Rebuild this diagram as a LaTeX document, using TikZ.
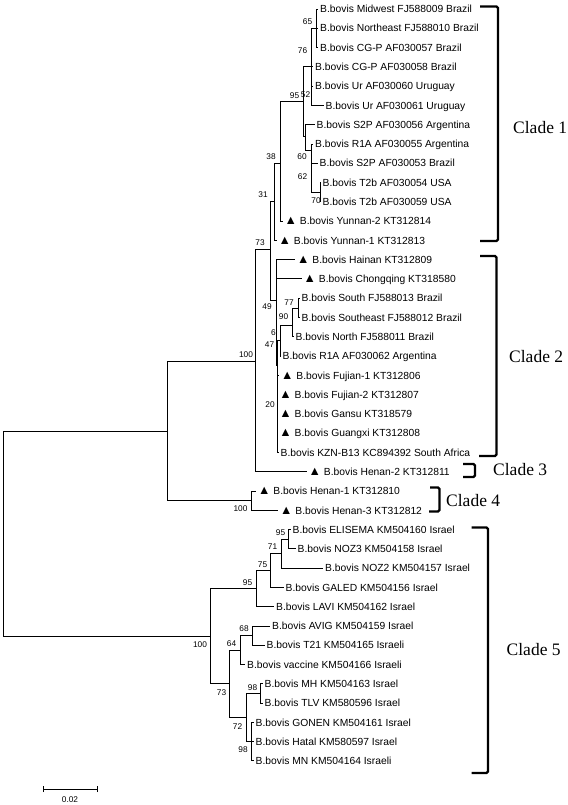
\documentclass[tikz,border=0pt]{standalone}
\usepackage{fontspec}
\setmainfont{Liberation Sans}
\newfontfamily\cladefont{Liberation Serif}
\newcommand{\tri}{{\fontsize{12.5}{12}\selectfont ▲}}
\begin{document}
\begin{tikzpicture}[x=1pt,y=-1pt,
  br/.style={line width=0.85pt},
  leaf/.style={anchor=west,inner xsep=2pt,inner ysep=0pt,text height=7.4pt,text depth=0pt,font=\fontsize{10.3}{12}\selectfont},
  bs/.style={inner sep=0pt,font=\fontsize{8.3}{9}\selectfont},
  clade/.style={anchor=west,inner sep=0pt,font=\cladefont\fontsize{17.5}{20}\selectfont},
  brk/.style={line width=2.2pt,rounded corners=1.5pt}]
\useasboundingbox (0,0) rectangle (567,805);

% ---------- leaves ----------
\node[leaf] (t1)  at (318,9.0)    {B.bovis Midwest FJ588009 Brazil};
\node[leaf] (t2)  at (318,28.3)   {B.bovis Northeast FJ588010 Brazil};
\node[leaf] (t3)  at (318,47.6)   {B.bovis CG-P AF030057 Brazil};
\node[leaf] (t4)  at (313,66.8)   {B.bovis CG-P AF030058 Brazil};
\node[leaf] (t5)  at (313,86.1)   {B.bovis Ur AF030060 Uruguay};
\node[leaf] (t6)  at (323.5,105.4){B.bovis Ur AF030061 Uruguay};
\node[leaf] (t7)  at (314.5,124.7){B.bovis S2P AF030056 Argentina};
\node[leaf] (t8)  at (313,144.0)  {B.bovis R1A AF030055 Argentina};
\node[leaf] (t9)  at (317.5,163.2){B.bovis S2P AF030053 Brazil};
\node[leaf] (t10) at (320.5,182.5){B.bovis T2b AF030054 USA};
\node[leaf] (t11) at (320.5,201.8){B.bovis T2b AF030059 USA};
\node[leaf] (t12) at (282.5,221.1)  {\tri\ B.bovis Yunnan-2 KT312814};
\node[leaf] (t13) at (276.5,240.4)  {\tri\ B.bovis Yunnan-1 KT312813};
\node[leaf] (t14) at (295,259.6){\tri\ B.bovis Hainan KT312809};
\node[leaf] (t15) at (301.5,278.9)  {\tri\ B.bovis Chongqing KT318580};
\node[leaf] (t16) at (299.5,298.2){B.bovis South FJ588013 Brazil};
\node[leaf] (t17) at (299.5,317.5){B.bovis Southeast FJ588012 Brazil};
\node[leaf] (t18) at (293.5,336.8){B.bovis North FJ588011 Brazil};
\node[leaf] (t19) at (280.5,356.0){B.bovis R1A AF030062 Argentina};
\node[leaf] (t20) at (279,375.3){\tri\ B.bovis Fujian-1 KT312806};
\node[leaf] (t21) at (277.2,394.6){\tri\ B.bovis Fujian-2 KT312807};
\node[leaf] (t22) at (277.2,413.9){\tri\ B.bovis Gansu KT318579};
\node[leaf] (t23) at (277.2,433.2){\tri\ B.bovis Guangxi KT312808};
\node[leaf] (t24) at (278.5,452.4){B.bovis KZN-B13 KC894392 South Africa};
\node[leaf] (t25) at (306.5,471.7)  {\tri\ B.bovis Henan-2 KT312811};
\node[leaf] (t26) at (256,491.0){\tri\ B.bovis Henan-1 KT312810};
\node[leaf] (t27) at (278,510.3){\tri\ B.bovis Henan-3 KT312812};
\node[leaf] (t28) at (290.5,529.6){B.bovis ELISEMA KM504160 Israel};
\node[leaf] (t29) at (295.5,548.8){B.bovis NOZ3 KM504158 Israel};
\node[leaf] (t30) at (323,568.1)  {B.bovis NOZ2 KM504157 Israel};
\node[leaf] (t31) at (283.5,587.4){B.bovis GALED KM504156 Israel};
\node[leaf] (t32) at (274,606.7)  {B.bovis LAVI KM504162 Israel};
\node[leaf] (t33) at (270,626.0)  {B.bovis AVIG KM504159 Israel};
\node[leaf] (t34) at (264.5,645.2){B.bovis T21 KM504165 Israeli};
\node[leaf] (t35) at (245,664.5)  {B.bovis vaccine KM504166 Israeli};
\node[leaf] (t36) at (262.5,683.8){B.bovis MH KM504163 Israel};
\node[leaf] (t37) at (262.5,703.1){B.bovis TLV KM580596 Israel};
\node[leaf] (t38) at (253.5,722.4){B.bovis GONEN KM504161 Israel};
\node[leaf] (t39) at (253.5,741.6){B.bovis Hatal KM580597 Israel};
\node[leaf] (t40) at (253.5,760.9){B.bovis MN KM504164 Israeli};

% ---------- internal nodes ----------
\coordinate (n65) at (316.5,28.3);
\coordinate (n52) at (311.5,66);
\coordinate (n70) at (320.5,192.2);
\coordinate (n62) at (311.5,150);
\coordinate (n60) at (305,136);
\coordinate (n95) at (303.5,101);
\coordinate (n38) at (280,163);
\coordinate (n31) at (274,201);
\coordinate (n77) at (298.3,308);
\coordinate (n90) at (292,325);
\coordinate (n6)  at (280,340);
\coordinate (n20) at (277,413);
\coordinate (n47) at (277,365);
\coordinate (c2)  at (276.5,300);
\coordinate (x3)  at (270.5,249);
\coordinate (x2)  at (255,361);
\coordinate (x5)  at (251.7,500.6);
\coordinate (x1)  at (167,431);
\coordinate (n95c) at (288.3,539.2);
\coordinate (n71) at (281,553.7);
\coordinate (n75) at (270.7,570.5);
\coordinate (n95b) at (256,588.6);
\coordinate (n68) at (252.7,635.6);
\coordinate (n64) at (240,650);
\coordinate (n98a) at (260.7,693.4);
\coordinate (n98b) at (251.7,741.6);
\coordinate (n72) at (246.7,717.5);
\coordinate (n73) at (229.3,683.8);
\coordinate (c5)  at (210,636.2);
\coordinate (root) at (3,534);

% ---------- branches ----------
\foreach \c in {t1,t2,t3} \draw[br] (n65) |- (\c.west);
\draw[br] (n52) |- (n65);
\foreach \c in {t4,t5,t6} \draw[br] (n52) |- (\c.west);
\foreach \c in {t10,t11} \draw[br] (n70) |- (\c.west);
\foreach \c in {t8,t9} \draw[br] (n62) |- (\c.west);
\draw[br] (n62) |- (n70);
\draw[br] (n60) |- (t7.west);
\draw[br] (n60) |- (n62);
\draw[br] (n95) |- (n52);
\draw[br] (n95) |- (n60);
\draw[br] (n38) |- (n95);
\draw[br] (n38) |- (t12.west);
\draw[br] (n31) |- (n38);
\draw[br] (n31) |- (t13.west);
\foreach \c in {t16,t17} \draw[br] (n77) |- (\c.west);
\draw[br] (n90) |- (n77);
\draw[br] (n90) |- (t18.west);
\draw[br] (n6) |- (n90);
\draw[br] (n6) |- (t19.west);
\foreach \c in {t20,t21,t22,t23,t24} \draw[br] (n20) |- (\c.west);
\draw[br] (n47) |- (n6);
\draw[br] (n47) |- (n20);
\draw[br] (c2) |- (t14.west);
\draw[br] (c2) |- (t15.west);
\draw[br] (c2) |- (n47);
\draw[br] (x3) |- (n31);
\draw[br] (x3) |- (c2);
\draw[br] (x2) |- (x3);
\draw[br] (x2) |- (t25.west);
\foreach \c in {t26,t27} \draw[br] (x5) |- (\c.west);
\draw[br] (x1) |- (x2);
\draw[br] (x1) |- (x5);
\foreach \c in {t28,t29} \draw[br] (n95c) |- (\c.west);
\draw[br] (n71) |- (n95c);
\draw[br] (n71) |- (t30.west);
\draw[br] (n75) |- (n71);
\draw[br] (n75) |- (t31.west);
\draw[br] (n95b) |- (n75);
\draw[br] (n95b) |- (t32.west);
\foreach \c in {t33,t34} \draw[br] (n68) |- (\c.west);
\draw[br] (n64) |- (n68);
\draw[br] (n64) |- (t35.west);
\foreach \c in {t36,t37} \draw[br] (n98a) |- (\c.west);
\foreach \c in {t38,t39,t40} \draw[br] (n98b) |- (\c.west);
\draw[br] (n72) |- (n98a);
\draw[br] (n72) |- (n98b);
\draw[br] (n73) |- (n64);
\draw[br] (n73) |- (n72);
\draw[br] (c5) |- (n95b);
\draw[br] (c5) |- (n73);
\draw[br] (root) |- (x1);
\draw[br] (root) |- (c5);

% ---------- bootstrap values ----------
\node[bs] (b65)  at (307.5,22)  {65};
\node[bs] (b76)  at (302.5,51)  {76};
\node[bs] (b95)  at (294.5,96)  {95};
\node[bs] (b52)  at (305.5,95)  {52};
\node[bs] (b60)  at (302,157)   {60};
\node[bs] (b62)  at (302.5,177) {62};
\node[bs] (b70)  at (316,201)   {70};
\node[bs] (b38)  at (271,157)   {38};
\node[bs] (b31)  at (263,195)   {31};
\node[bs] (b73)  at (260,243)   {73};
\node[bs] (b100a) at (246,355)  {100};
\node[bs] (b49)  at (267,307)   {49};
\node[bs] (b77)  at (289,303)   {77};
\node[bs] (b90)  at (283.5,317) {90};
\node[bs] (b6)   at (273.5,333) {6};
\node[bs] (b47)  at (269.5,345) {47};
\node[bs] (b20)  at (270,405)   {20};
\node[bs] (b100b) at (240.5,508.5) {100};
\node[bs] (b95c) at (280.5,533) {95};
\node[bs] (b71)  at (272.5,547) {71};
\node[bs] (b75)  at (262.5,565) {75};
\node[bs] (b95b) at (247.5,583) {95};
\node[bs] (b68)  at (244,629)   {68};
\node[bs] (b64)  at (231.5,644) {64};
\node[bs] (b100c) at (200,645)  {100};
\node[bs] (b98a) at (252.5,688) {98};
\node[bs] (b73b) at (221.5,693) {73};
\node[bs] (b72)  at (237.5,727) {72};
\node[bs] (b98b) at (243,750)   {98};

% ---------- clade brackets ----------
\draw[brk] (480,6.5) -- (498,6.5) -- (498,241) -- (480,241);
\draw[brk] (480,256) -- (496.5,256) -- (496.5,456) -- (479,456);
\draw[brk] (463,464) -- (475,464) -- (475,477) -- (463,477);
\draw[brk] (430,487.5) -- (439.5,487.5) -- (439.5,511.5) -- (429,511.5);
\draw[brk] (471.5,527.5) -- (488,527.5) -- (488,773) -- (471.5,773);
\node[clade] (k1) at (513,128) {Clade 1};
\node[clade] (k2) at (509,357) {Clade 2};
\node[clade] (k3) at (493,470) {Clade 3};
\node[clade] (k4) at (446,501) {Clade 4};
\node[clade] (k5) at (506.5,650) {Clade 5};

% ---------- scale bar ----------
\coordinate (sbl) at (43,789);
\coordinate (sbr) at (97,789);
\draw[br] (sbl) -- (sbr);
\draw[br] ([yshift=-3pt]sbl) -- ([yshift=3pt]sbl);
\draw[br] ([yshift=-3pt]sbr) -- ([yshift=3pt]sbr);
\node[bs] (sbt) at (70,800) {0.02};
\end{tikzpicture}
\end{document}
